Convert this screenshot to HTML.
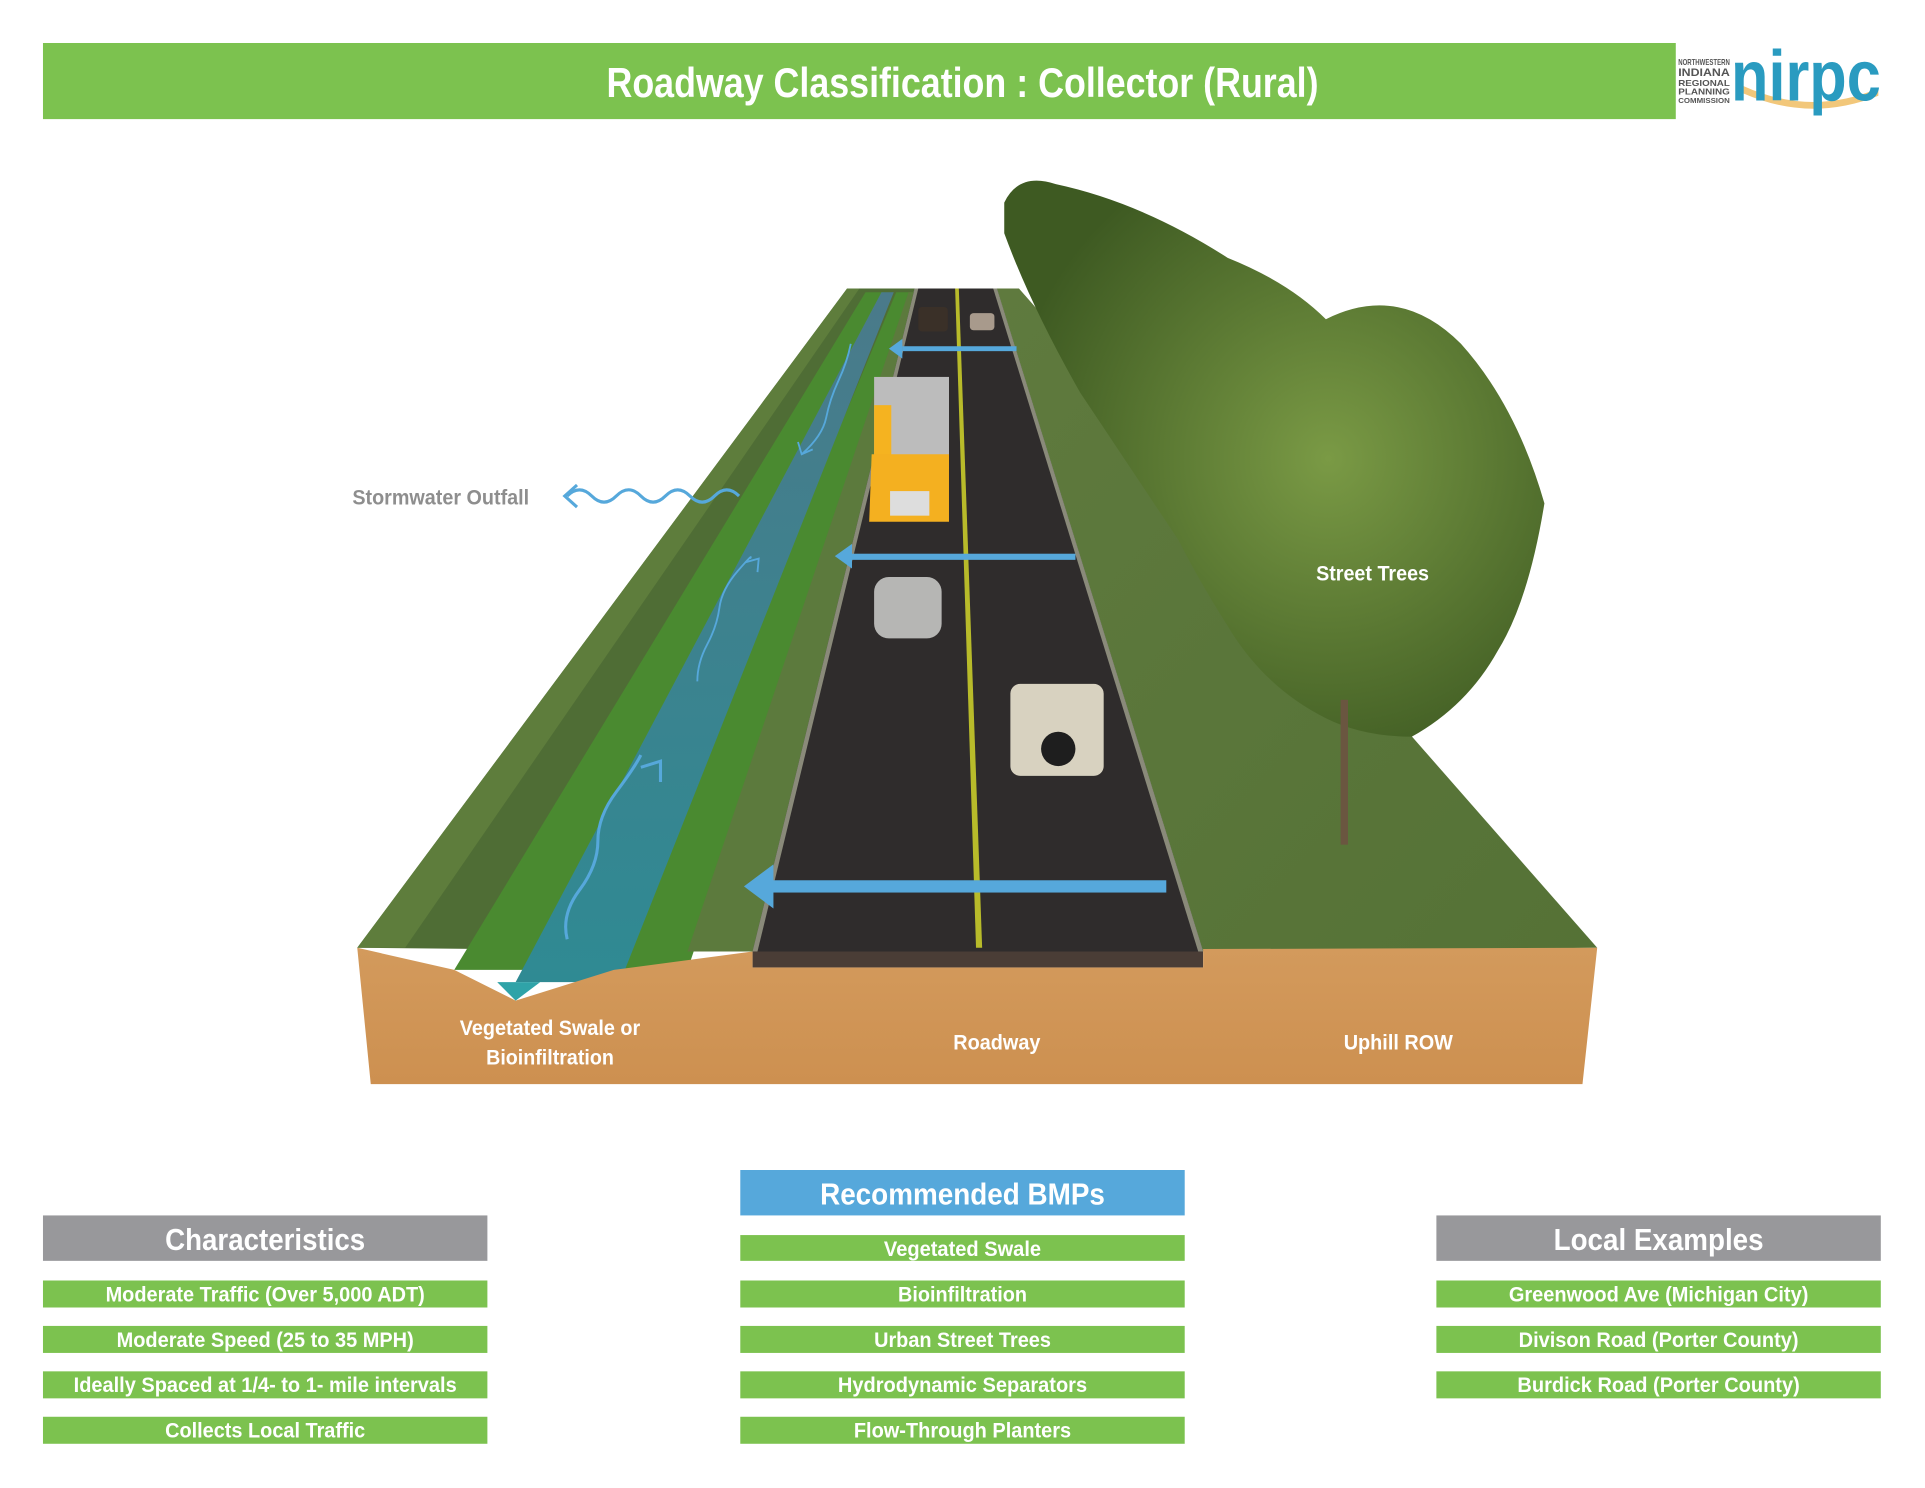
<!DOCTYPE html>
<html><head><meta charset="utf-8"><style>
html,body{margin:0;padding:0;background:#fff;}
svg{display:block;}
text{font-family:"Liberation Sans Narrow","Liberation Sans",sans-serif;font-weight:bold;fill:#fff;}
</style></head><body>
<svg width="1925" height="1488" viewBox="0 0 1568 1212" xmlns="http://www.w3.org/2000/svg">
<defs>
<linearGradient id="soil" x1="0" y1="0" x2="0" y2="1"><stop offset="0" stop-color="#d39a5c"/><stop offset="1" stop-color="#cd9050"/></linearGradient>
<linearGradient id="grassR" x1="0" y1="0" x2="1" y2="1"><stop offset="0" stop-color="#5f7a3e"/><stop offset="1" stop-color="#557236"/></linearGradient>
<linearGradient id="water" x1="0" y1="0" x2="0" y2="1"><stop offset="0" stop-color="#4a7a8a"/><stop offset="1" stop-color="#2f8a93"/></linearGradient>
<radialGradient id="tree" cx="0.6" cy="0.5" r="0.6"><stop offset="0" stop-color="#7a9a45"/><stop offset="1" stop-color="#3e5a22"/></radialGradient>
</defs>
<rect x="35" y="35" width="1330" height="62" fill="#7cc24f"/>
<text x="784" y="79" font-size="34" text-anchor="middle" textLength="580" lengthAdjust="spacingAndGlyphs">Roadway Classification : Collector (Rural)</text>
<text x="1367" y="53" font-size="7" style="fill:#555" textLength="42" lengthAdjust="spacingAndGlyphs">NORTHWESTERN</text>
<text x="1367" y="62" font-size="9" style="fill:#555" textLength="42" lengthAdjust="spacingAndGlyphs">INDIANA</text>
<text x="1367" y="70" font-size="7" style="fill:#555" textLength="42" lengthAdjust="spacingAndGlyphs">REGIONAL</text>
<text x="1367" y="77" font-size="7" style="fill:#555" textLength="42" lengthAdjust="spacingAndGlyphs">PLANNING</text>
<text x="1367" y="84" font-size="6" style="fill:#555" textLength="42" lengthAdjust="spacingAndGlyphs">COMMISSION</text>
<path d="M1420 70 Q1475 95 1530 72 L1530 78 Q1475 100 1420 76Z" fill="#f2c77a"/>
<text x="1410" y="82" font-size="58" style="fill:#2a9bc0" textLength="122" lengthAdjust="spacingAndGlyphs">nirpc</text>

<polygon points="291,772 690,235 745,235 613,775" fill="#4f6d35"/>
<polygon points="291,772 690,235 700,235 330,772" fill="#5e7d3c"/>
<polygon points="370,790 705,238 720,238 430,790" fill="#4a8a30"/>
<polygon points="500,790 730,238 745,238 560,790" fill="#4a8a30"/>
<polygon points="420,800 718,238 728,238 505,800" fill="url(#water)"/>
<polygon points="560,775 740,238 748,238 613,775" fill="#5c7a3d"/>
<polygon points="812,235 980,775 1301,772 830,235" fill="url(#grassR)"/>
<polygon points="745,235 812,235 980,775 613,775" fill="#2f2c2c"/>
<polygon points="745,235 748,235 617,775 613,775" fill="#8a8a7a"/>
<polygon points="809,235 812,235 980,775 976,775" fill="#8a8a7a"/>
<polygon points="778,235 781,235 800,772 795,772" fill="#b8bb2a"/>
<rect x="613" y="775" width="367" height="13" fill="#4a3d36"/>
<polygon points="291,772 370,790 420,815 500,790 613,775 613,788 980,788 980,773 1301,772 1289,883 302,883" fill="url(#soil)"/>
<polygon points="405,800 420,815 440,800" fill="#2fa3a8"/>
<rect x="748" y="250" width="24" height="20" rx="3" fill="#3a3028"/>
<rect x="790" y="255" width="20" height="14" rx="3" fill="#a89a8c"/>
<rect x="712" y="307" width="61" height="75" fill="#bcbcbc"/>
<rect x="712" y="330" width="14" height="55" fill="#f5b320"/>
<polygon points="710,370 773,370 773,425 708,425" fill="#f4b020"/>
<rect x="725" y="400" width="32" height="20" fill="#ddd"/>
<rect x="712" y="470" width="55" height="50" rx="12" fill="#b6b6b4"/>
<rect x="823" y="557" width="76" height="75" rx="8" fill="#d8d2c0"/>
<circle cx="862" cy="610" r="14" fill="#1e1e1e"/>
<path d="M818,165 Q830,140 860,150 Q930,165 1000,210 Q1050,230 1080,260 Q1140,230 1190,280 Q1235,330 1258,410 Q1245,490 1220,530 Q1195,575 1150,600 Q1110,600 1080,585 Q1030,560 1000,510 Q975,470 960,440 Q920,380 880,320 Q840,250 818,190Z" fill="url(#tree)"/>
<rect x="1092" y="570" width="6" height="118" fill="#6a5640"/>
<g fill="#56a8db">
<rect x="735" y="282" width="93" height="4"/><polygon points="724,284 735,276 735,292"/>
<rect x="693" y="451" width="183" height="5"/><polygon points="680,453 694,443 694,463"/>
<rect x="628" y="717" width="322" height="10"/><polygon points="606,722 630,704 630,740"/>
</g>
<g fill="none" stroke="#56a8db" stroke-width="2.5">
<path d="M462,404 q10,-10 20,0 t20,0 t20,0 t20,0 t20,0 t20,0 t20,0"/>
<path d="M470,395 L460,404 L470,413"/>
<path d="M462,765 q-5,-20 10,-40 t15,-40 t15,-40 t20,-30"/>
<path d="M522,625 L538,620 L538,637"/>
<path d="M568,555 q0,-15 8,-30 t10,-30 t15,-30 t10,-10" stroke-width="1.5"/>
<path d="M607,458 L618,455 L617,466" stroke-width="1.5"/>
<path d="M693,280 q-3,15 -10,30 t-10,30 t-20,30" stroke-width="1.5"/>
<path d="M650,360 L653,370 L662,366" stroke-width="1.5"/>
</g>
<text x="359" y="411" font-size="17" text-anchor="middle" style="fill:#8e8e8e" textLength="144" lengthAdjust="spacingAndGlyphs">Stormwater Outfall</text>
<text x="1118" y="473" font-size="17" text-anchor="middle" textLength="92" lengthAdjust="spacingAndGlyphs">Street Trees</text>
<text x="448" y="843" font-size="17" text-anchor="middle" textLength="147" lengthAdjust="spacingAndGlyphs">Vegetated Swale or</text>
<text x="448" y="867" font-size="17" text-anchor="middle" textLength="104" lengthAdjust="spacingAndGlyphs">Bioinfiltration</text>
<text x="812" y="855" font-size="17" text-anchor="middle" textLength="71" lengthAdjust="spacingAndGlyphs">Roadway</text>
<text x="1139" y="855" font-size="17" text-anchor="middle" textLength="89" lengthAdjust="spacingAndGlyphs">Uphill ROW</text>

<rect x="603" y="953" width="362" height="37" fill="#56a8db"/>
<text x="784" y="981" font-size="25" text-anchor="middle" textLength="232" lengthAdjust="spacingAndGlyphs">Recommended BMPs</text>
<rect x="35" y="990" width="362" height="37" fill="#98989b"/>
<text x="216" y="1018" font-size="25" text-anchor="middle" textLength="163" lengthAdjust="spacingAndGlyphs">Characteristics</text>
<rect x="1170" y="990" width="362" height="37" fill="#98989b"/>
<text x="1351" y="1018" font-size="25" text-anchor="middle" textLength="171" lengthAdjust="spacingAndGlyphs">Local Examples</text>
<g fill="#7cc24f">
<rect x="603" y="1006" width="362" height="21"/>
<rect x="35" y="1043" width="362" height="22"/><rect x="603" y="1043" width="362" height="22"/><rect x="1170" y="1043" width="362" height="22"/>
<rect x="35" y="1080" width="362" height="22"/><rect x="603" y="1080" width="362" height="22"/><rect x="1170" y="1080" width="362" height="22"/>
<rect x="35" y="1117" width="362" height="22"/><rect x="603" y="1117" width="362" height="22"/><rect x="1170" y="1117" width="362" height="22"/>
<rect x="35" y="1154" width="362" height="22"/><rect x="603" y="1154" width="362" height="22"/>
</g>
<g font-size="17" text-anchor="middle" lengthAdjust="spacingAndGlyphs">
<text x="784" y="1023" textLength="128" lengthAdjust="spacingAndGlyphs">Vegetated Swale</text>
<text x="216" y="1060" textLength="260" lengthAdjust="spacingAndGlyphs">Moderate Traffic (Over 5,000 ADT)</text>
<text x="784" y="1060" textLength="105" lengthAdjust="spacingAndGlyphs">Bioinfiltration</text>
<text x="1351" y="1060" textLength="244" lengthAdjust="spacingAndGlyphs">Greenwood Ave (Michigan City)</text>
<text x="216" y="1097" textLength="242" lengthAdjust="spacingAndGlyphs">Moderate Speed (25 to 35 MPH)</text>
<text x="784" y="1097" textLength="144" lengthAdjust="spacingAndGlyphs">Urban Street Trees</text>
<text x="1351" y="1097" textLength="228" lengthAdjust="spacingAndGlyphs">Divison Road (Porter County)</text>
<text x="216" y="1134" textLength="312" lengthAdjust="spacingAndGlyphs">Ideally Spaced at 1/4- to 1- mile intervals</text>
<text x="784" y="1134" textLength="203" lengthAdjust="spacingAndGlyphs">Hydrodynamic Separators</text>
<text x="1351" y="1134" textLength="230" lengthAdjust="spacingAndGlyphs">Burdick Road (Porter County)</text>
<text x="216" y="1171" textLength="163" lengthAdjust="spacingAndGlyphs">Collects Local Traffic</text>
<text x="784" y="1171" textLength="177" lengthAdjust="spacingAndGlyphs">Flow-Through Planters</text>
</g>
</svg>
</body></html>
